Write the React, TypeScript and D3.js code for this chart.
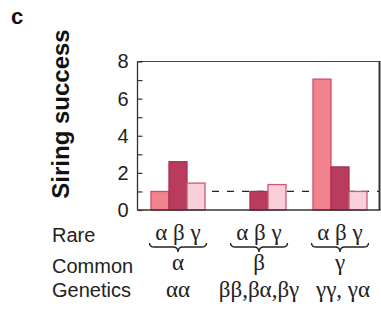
import * as d3 from "d3";

// common genotype groups and rare genotype within each group
const commonTypes = ["α", "β", "γ"];
const rareTypes = ["α", "β", "γ"];
const geneticsLabels = ["αα", "ββ,βα,βγ", "γγ, γα"];

// siring success of each rare type, per common group
const successAlpha = [1.0, 2.6, 1.45];
const successBeta = [0, 1.0, 1.37];
const successGamma = [7.05, 2.32, 1.0];
const groupValues = [successAlpha, successBeta, successGamma];

const yTicks = [0, 1, 2, 3, 4, 5, 6, 7, 8];

const FILL = ["#f1838f", "#b93b5d", "#f9cfda"];
const STROKE = ["#d24b69", "#a8304f", "#c9577a"];

const W = 381;
const H = 312;
const plot = { left: 137.5, right: 379.5, top: 61.5, bottom: 210 };

const SANS = "'Liberation Sans', Arial, sans-serif";
const SERIF = "'Liberation Serif', 'Times New Roman', serif";

function bracePath(x1: number, x2: number, top: number, h: number) {
  const mid = (x1 + x2) / 2;
  const my = top + h * 0.45;
  const r = 5;
  return `M${x1},${top} Q${x1},${my} ${x1 + r},${my} L${mid - r},${my} Q${mid},${my} ${mid},${top + h} Q${mid},${my} ${mid + r},${my} L${x2 - r},${my} Q${x2},${my} ${x2},${top}`;
}

export default function App() {
  const x = d3.scaleBand<string>().domain(commonTypes).range([plot.left, plot.left + 243]).padding(0);
  const inner = d3.scaleBand<string>().domain(rareTypes).range([0, 54]).padding(0);
  const y = d3.scaleLinear().domain([0, 8]).range([plot.bottom, plot.top]);

  const axisRef = (node: SVGGElement | null) => {
    if (!node) return;
    const g = d3.select(node);
    g.selectAll("*").remove();
    g.call(
      d3.axisLeft(y)
        .tickValues(yTicks)
        .tickSize(-5)
        .tickPadding(9)
        .tickFormat((d) => (+d % 2 === 0 ? `${d}` : ""))
    );
    g.select(".domain").remove();
    g.selectAll(".tick line").attr("stroke", "#333").attr("stroke-width", 1.2);
    g.selectAll(".tick text")
      .attr("fill", "#222")
      .attr("font-size", 20)
      .attr("font-family", SANS);
  };

  const groupStart = (c: string) => (x(c) ?? 0) + x.bandwidth() / 2 - 27;

  return (
    <svg
      width={W}
      height={H}
      style={{ position: "absolute", left: 0, top: 0, background: "#fff" }}
    >
      <text x={11} y={24} fontFamily={SANS} fontWeight="bold" fontSize={22} fill="#111">
        c
      </text>
      <text
        transform={`translate(68.5,114) rotate(-90)`}
        textAnchor="middle"
        fontFamily={SANS}
        fontWeight="bold"
        fontSize={24}
        fill="#111"
      >
        Siring success
      </text>

      {/* reference line at 1 */}
      <line
        x1={212}
        x2={plot.right}
        y1={y(1)}
        y2={y(1)}
        stroke="#222"
        strokeWidth={1.3}
        strokeDasharray="7 8"
      />

      {commonTypes.map((c, gi) =>
        rareTypes.map((r, ri) => {
          const v = groupValues[gi][ri];
          if (v <= 0) return null;
          return (
            <rect
              key={`${c}-${r}`}
              x={groupStart(c) + (inner(r) ?? 0)}
              y={y(v)}
              width={inner.bandwidth()}
              height={y(0) - y(v)}
              fill={FILL[ri]}
              stroke={STROKE[ri]}
              strokeWidth={1.3}
            />
          );
        })
      )}

      {/* frame */}
      <line x1={plot.left} x2={plot.right + 1} y1={plot.top} y2={plot.top} stroke="#444" strokeWidth={1} />
      <line x1={plot.right} x2={plot.right} y1={plot.top} y2={plot.bottom} stroke="#333" strokeWidth={2} />
      <line x1={plot.left} x2={plot.left} y1={plot.top} y2={plot.bottom} stroke="#333" strokeWidth={1.3} />
      <line x1={plot.left} x2={plot.right + 1} y1={plot.bottom} y2={plot.bottom} stroke="#333" strokeWidth={1.5} />

      <g ref={axisRef} transform={`translate(${plot.left},0)`} />

      {/* row labels */}
      <g fontFamily={SANS} fontSize={20} fill="#222">
        <text x={52} y={242}>Rare</text>
        <text x={52} y={273}>Common</text>
        <text x={52} y={297}>Genetics</text>
      </g>

      {commonTypes.map((c, gi) => {
        const cx = (x(c) ?? 0) + x.bandwidth() / 2;
        return (
          <g key={c} fontFamily={SERIF} fontSize={23} fill="#222" textAnchor="middle">
            <text x={cx} y={240}>{rareTypes.join(" ")}</text>
            <path d={bracePath(cx - 28.5, cx + 28.5, 243, 9)} fill="none" stroke="#222" strokeWidth={1.4} />
            <text x={cx} y={270}>{c}</text>
            <text x={cx + (gi === 2 ? 3 : 0)} y={297}>{geneticsLabels[gi]}</text>
          </g>
        );
      })}
    </svg>
  );
}
